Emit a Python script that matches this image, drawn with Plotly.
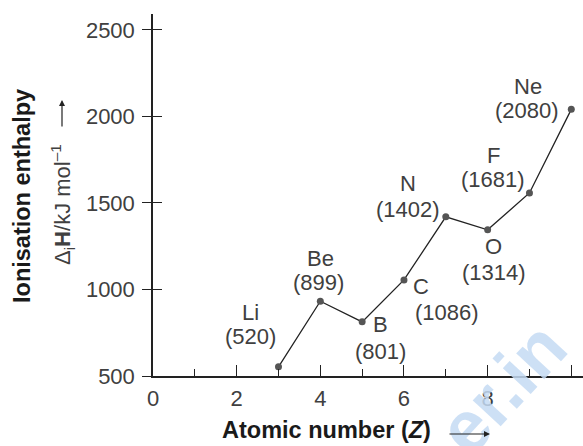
import plotly.graph_objects as go

# data
elements = ["Li", "Be", "B", "C", "N", "O", "F", "Ne"]
atomic_number = [3, 4, 5, 6, 7, 8, 9, 10]
ie_label = [520, 899, 801, 1086, 1402, 1314, 1681, 2080]   # printed values
ie_drawn = [553, 932, 813, 1055, 1420, 1345, 1558, 2041]   # where the dots sit
x_ticks = [0, 2, 4, 6, 8, 10]
y_ticks = [500, 1000, 1500, 2000, 2500]

# label offsets in px from each dot: (name dx, name dy, value dx, value dy)
LABEL_OFFSETS = [
    (-28, 54, -28, 30),
    (0, 43, -2, 19),
    (18, -3, 18, -30),
    (17, -7, 43, -33),
    (-38, 33, -38, 7),
    (6, -17, 6, -43),
    (-36, 37, -36, 13),
    (-43, 23, -44, -1),
]

INK = "#222222"
TXT = "#404040"
FONT = "Liberation Sans"


def px_to_paper(px, py):
    # plot area: x 153..583, y 14..376
    return (px - 153) / 430, (376 - py) / 362


fig = go.Figure()
fig.add_trace(go.Scatter(
    x=atomic_number, y=ie_drawn,
    mode="lines+markers",
    line=dict(color=INK, width=1.3),
    marker=dict(color="#555555", size=7),
    showlegend=False,
    hoverinfo="skip",
))
# invisible copy on the overlay axis so its inner ticks get drawn
fig.add_trace(go.Scatter(
    x=atomic_number, y=ie_drawn, yaxis="y2",
    mode="markers", marker=dict(opacity=0),
    showlegend=False, hoverinfo="skip",
))

# faint watermark fragment (added first so everything else sits on top)
x, y = px_to_paper(502, 388)
fig.add_annotation(xref="paper", yref="paper", x=x, y=y, xanchor="center", yanchor="middle",
                   text="<b>er.in</b>", textangle=-47, showarrow=False,
                   font=dict(size=72, color="rgba(196,219,243,0.85)", family=FONT))

for i, el in enumerate(elements):
    ndx, ndy, vdx, vdy = LABEL_OFFSETS[i]
    fig.add_annotation(x=atomic_number[i], y=ie_drawn[i], text=el,
                       xshift=ndx, yshift=ndy, showarrow=False,
                       font=dict(size=22, color=TXT, family=FONT))
    fig.add_annotation(x=atomic_number[i], y=ie_drawn[i], text=f"({ie_label[i]})",
                       xshift=vdx, yshift=vdy, showarrow=False,
                       font=dict(size=22, color=TXT, family=FONT))

# axis titles
x, y = px_to_paper(22, 196)
fig.add_annotation(xref="paper", yref="paper", x=x, y=y, xanchor="center", yanchor="middle",
                   text="<b>Ionisation enthalpy</b>", textangle=-90, showarrow=False,
                   font=dict(size=23.5, color="#1a1a1a", family=FONT))
x, y = px_to_paper(62, 205)
fig.add_annotation(xref="paper", yref="paper", x=x, y=y, xanchor="center", yanchor="middle",
                   text="Δ<sub>i</sub><b>H</b>/kJ mol<sup>–1</sup>", textangle=-90,
                   showarrow=False, font=dict(size=22, color=TXT, family=FONT))
x, y = px_to_paper(62, 100)
fig.add_annotation(xref="paper", yref="paper", x=x, y=y, text="",
                   showarrow=True, ax=0, ay=28, arrowhead=2, arrowsize=1,
                   arrowwidth=1.2, arrowcolor=INK)
x, y = px_to_paper(326, 430)
fig.add_annotation(xref="paper", yref="paper", x=x, y=y, xanchor="center", yanchor="middle",
                   text="<b>Atomic number (<i>Z</i>)</b>", showarrow=False,
                   font=dict(size=23.5, color="#1a1a1a", family=FONT))
x, y = px_to_paper(490, 434)
fig.add_annotation(xref="paper", yref="paper", x=x, y=y, text="",
                   showarrow=True, ax=-42, ay=0, arrowhead=2, arrowsize=1,
                   arrowwidth=1.2, arrowcolor=INK)

fig.update_layout(
    width=583, height=446,
    margin=dict(l=153, r=0, t=14, b=70),
    paper_bgcolor="white", plot_bgcolor="white",
    font=dict(family=FONT, color=TXT, size=22),
    xaxis=dict(
        range=[0, 10.28], tickvals=x_ticks, ticks="inside", ticklen=11,
        tickwidth=1.3, tickcolor=INK, showline=True, linecolor=INK, linewidth=1.5,
        showgrid=False, zeroline=False, ticklabelstandoff=2,
        minor=dict(dtick=1, ticks="inside", ticklen=7, tickwidth=1.3, tickcolor=INK),
    ),
    yaxis=dict(
        range=[500, 2592], tickvals=y_ticks, ticks="outside", ticklen=9,
        tickwidth=1.3, tickcolor=INK, showline=True, linecolor=INK, linewidth=1.5,
        showgrid=False, zeroline=False, ticklabelstandoff=3,
    ),
    yaxis2=dict(
        range=[500, 2592], tickvals=y_ticks, ticks="inside", ticklen=9,
        tickwidth=1.3, tickcolor=INK, overlaying="y", side="left",
        showticklabels=False, showline=False, showgrid=False, zeroline=False,
    ),
)

# drop the browser's default 8px body margin so the figure sits at the page corner
fig.write_html("out.html", config={"displayModeBar": False},
               post_script="document.body.style.margin='0';")
